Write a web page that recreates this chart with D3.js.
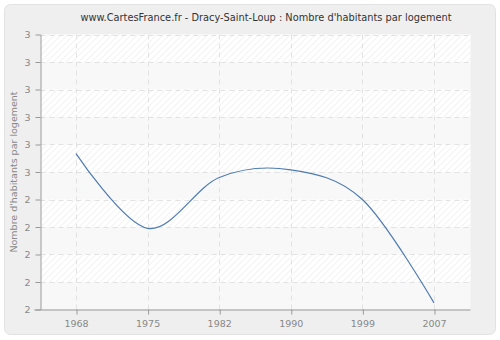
<!DOCTYPE html>
<html>
<head>
<meta charset="utf-8">
<script src="https://cdn.jsdelivr.net/npm/d3@7"></script>
<style>
  body { margin: 0; background: #fff; }
  svg { display: block; }
</style>
</head>
<body>
<svg id="chart"></svg>
<script>
const years = ["1968", "1975", "1982", "1990", "1999", "2007"];
const values = [2.567, 2.295, 2.48, 2.508, 2.4, 2.024];
const yTicks = [2.0, 2.1, 2.2, 2.3, 2.4, 2.5, 2.6, 2.7, 2.8, 2.9, 3.0];
const title = "www.CartesFrance.fr - Dracy-Saint-Loup : Nombre d'habitants par logement";
const yLabel = "Nombre d'habitants par logement";

const width = 500;
const height = 340;
const margin = { left: 40.5, right: 29.5, top: 34.5, bottom: 30.5 };
const font = "Verdana, 'DejaVu Sans', sans-serif";

const svg = d3.select("#chart").attr("width", width).attr("height", height);

// hachures
const defs = svg.append("defs");
const pat = defs.append("pattern")
  .attr("id", "hatch")
  .attr("patternUnits", "userSpaceOnUse")
  .attr("width", 4.5).attr("height", 4.5)
  .attr("patternTransform", "rotate(45)");
pat.append("rect").attr("width", 4.5).attr("height", 4.5).attr("fill", "#ffffff");
pat.append("line")
  .attr("x1", 0).attr("y1", 0).attr("x2", 0).attr("y2", 4.5)
  .attr("stroke", "#ebebeb").attr("stroke-width", 1.2);

// cadre
svg.append("rect")
  .attr("x", 4.5).attr("y", 4.5)
  .attr("width", 491).attr("height", 330)
  .attr("rx", 6)
  .attr("fill", "#efefef")
  .attr("stroke", "#e2e2e2");

svg.append("text")
  .attr("x", 266).attr("y", 21)
  .attr("text-anchor", "middle")
  .style("font-family", font)
  .style("font-size", "9.8px")
  .attr("fill", "#333")
  .text(title);

const x0 = margin.left, x1 = width - margin.right;
const y0 = height - margin.bottom, y1 = margin.top;

const xScale = d3.scalePoint().domain(years).range([76, 434]);
const yScale = d3.scaleLinear().domain([2, 3]).range([y0, y1]);

svg.append("rect")
  .attr("x", x0).attr("y", y1)
  .attr("width", x1 - x0).attr("height", y0 - y1)
  .attr("fill", "#f8f8f8");

// bandes alternées
const bands = d3.range(yTicks.length - 1).filter((i) => i % 2 === 1);
svg.append("g")
  .selectAll("rect")
  .data(bands)
  .enter()
  .append("rect")
  .attr("x", x0)
  .attr("y", (i) => yScale(yTicks[i + 1]))
  .attr("width", x1 - x0)
  .attr("height", (i) => yScale(yTicks[i]) - yScale(yTicks[i + 1]))
  .attr("fill", "url(#hatch)");

// grille
const grid = svg.append("g")
  .attr("stroke", "#e2e2e2")
  .attr("stroke-dasharray", "5,4");

grid.selectAll("line.h")
  .data(yTicks.slice(1))
  .enter()
  .append("line")
  .attr("class", "h")
  .attr("x1", x0).attr("x2", x1)
  .attr("y1", (d) => Math.round(yScale(d)) + 0.5)
  .attr("y2", (d) => Math.round(yScale(d)) + 0.5);

grid.selectAll("line.v")
  .data(years)
  .enter()
  .append("line")
  .attr("class", "v")
  .attr("y1", y1).attr("y2", y0)
  .attr("x1", (d) => Math.round(xScale(d)) + 0.5)
  .attr("x2", (d) => Math.round(xScale(d)) + 0.5);

// courbe
const line = d3.line()
  .x((d, i) => xScale(years[i]))
  .y((d) => yScale(d))
  .curve(d3.curveCatmullRom.alpha(0));

svg.append("path")
  .datum(values)
  .attr("d", line)
  .attr("fill", "none")
  .attr("stroke", "#4f7cb0")
  .attr("stroke-width", 1.2);

// axes
const axisFont = (g) => {
  g.selectAll("text")
    .style("font-family", font)
    .style("font-size", "9.5px")
    .attr("fill", "#888");
  g.selectAll("line").attr("stroke", "#999");
  g.select(".domain").attr("stroke", "#999");
};

const xAxis = d3.axisBottom(xScale).tickSize(5).tickPadding(6).tickSizeOuter(0);
svg.append("g")
  .attr("transform", `translate(0, ${y0})`)
  .call(xAxis)
  .call((g) => g.select(".domain").attr("d", `M${x0 - 6},0.5H${x1}`))
  .call((g) => g.selectAll(".tick line").attr("transform", "translate(0.5,0)"))
  .call(axisFont);

const yAxis = d3.axisLeft(yScale)
  .tickValues(yTicks)
  .tickFormat((d) => Math.round(d))
  .tickSize(5)
  .tickPadding(5)
  .tickSizeOuter(0);
svg.append("g")
  .attr("transform", `translate(${x0}, 0)`)
  .call(yAxis)
  .call((g) => g.select(".domain").attr("d", `M0.5,${y1}V${y0 + 0.5}`))
  .call(axisFont);

svg.append("text")
  .attr("transform", `translate(17, ${(y0 + y1) / 2}) rotate(-90)`)
  .attr("text-anchor", "middle")
  .style("font-family", font)
  .style("font-size", "9.5px")
  .attr("fill", "#888")
  .text(yLabel);
</script>
</body>
</html>
